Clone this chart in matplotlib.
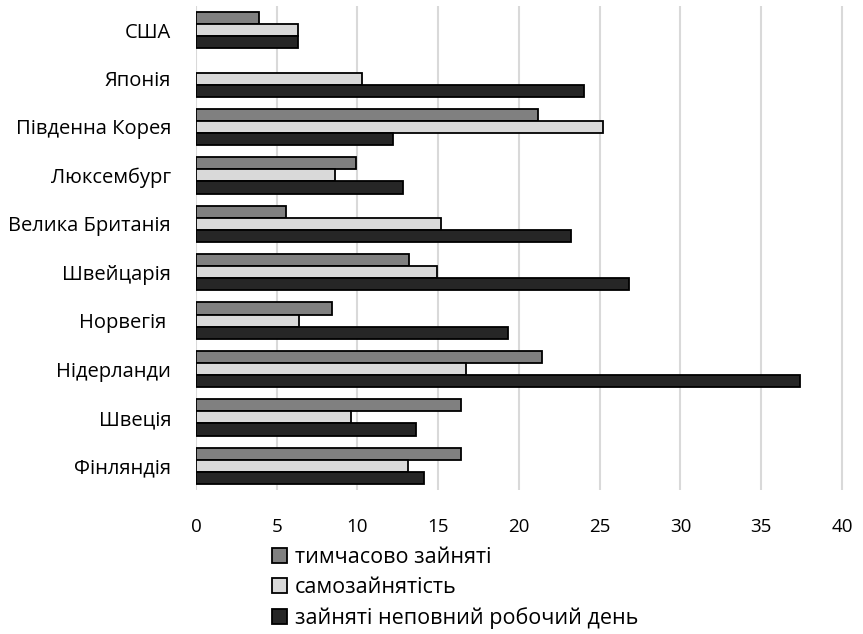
import matplotlib
matplotlib.use("Agg")
import matplotlib.pyplot as plt
import numpy as np

countries = ["США", "Японія", "Південна Корея", "Люксембург", "Велика Британія",
             "Швейцарія", "Норвегія ", "Нідерланди", "Швеція", "Фінляндія"]
temp = [3.9, 0, 21.2, 9.9, 5.6, 13.2, 8.4, 21.4, 16.4, 16.4]
selfemp = [6.3, 10.3, 25.2, 8.6, 15.2, 14.9, 6.4, 16.7, 9.6, 13.1]
parttime = [6.3, 24.0, 12.2, 12.8, 23.2, 26.8, 19.35, 37.4, 13.65, 14.1]
series_names = ["тимчасово зайняті", "самозайнятість", "зайняті неповний робочий день"]
colors = ["#808080", "#d9d9d9", "#262626"]
xticks = [0, 5, 10, 15, 20, 25, 30, 35, 40]

plt.rcParams['font.family'] = ['Open Sans', 'DejaVu Sans']

fig = plt.figure(figsize=(8.63, 6.34), dpi=100)
ax = fig.add_axes([196/863, 1 - 490/634, (850-196)/863, (490-6)/634])

n = len(countries)
y = np.arange(n)  # 0 = top
h = 0.25
handles = []
for i, (vals, c, name) in enumerate(zip([temp, selfemp, parttime], colors, series_names)):
    lw = [1.3 if v > 0 else 0 for v in vals]
    b = ax.barh(y + (i - 1) * h, vals, height=h, color=c, edgecolor="black",
                linewidth=lw, label=name, zorder=3)
    handles.append(b)

ax.set_ylim(n - 0.5, -0.5)
ax.set_xlim(0, 40.5)
ax.set_xticks(xticks)
ax.set_xticklabels([str(t) for t in xticks], fontsize=13.5)
ax.set_yticks(y)
ax.set_yticklabels(countries, fontsize=14.5)
ax.tick_params(axis='x', length=0, pad=20)
ax.tick_params(axis='y', length=0, pad=18)
ax.xaxis.grid(True, color="#d9d9d9", linewidth=1.5, zorder=0)
for s in ax.spines.values():
    s.set_visible(False)

leg = fig.legend(handles=handles, labels=series_names, loc="upper left",
                 bbox_to_anchor=(272/863, 1 - 547/634), frameon=False,
                 fontsize=15.5, handlelength=0.7, handleheight=0.7,
                 handletextpad=0.35, labelspacing=0.42, borderaxespad=0,
                 borderpad=0)

fig.savefig("out.png", dpi=100)
